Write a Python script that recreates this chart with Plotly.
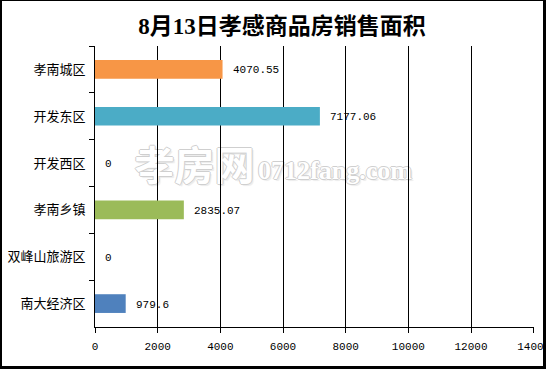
import plotly.graph_objects as go

# ---- data ----
categories = ["孝南城区", "开发东区", "开发西区", "孝南乡镇", "双峰山旅游区", "南大经济区"]
areas = [4070.55, 7177.06, 0, 2835.07, 0, 979.6]
value_labels = ["4070.55", "7177.06", "0", "2835.07", "0", "979.6"]
bar_colors = ["#F79646", "#4BACC6", "#C0504D", "#9BBB59", "#8064A2", "#4F81BD"]
x_ticks = [0, 2000, 4000, 6000, 8000, 10000, 12000, 14000]
title_text = "8月13日孝感商品房销售面积"
watermark_cn = "孝房网"
watermark_en = "0712fang.com"

# ---- layout geometry (pixels) ----
W, H = 546, 369
ML, MR, MT, MB = 95, 12, 46, 42
PW, PH = W - ML - MR, H - MT - MB


def px_x(px):
    return (px - ML) / PW


def px_y(py):
    return (H - MB - py) / PH


fig = go.Figure()
fig.add_trace(go.Bar(
    x=areas, y=categories, orientation="h",
    marker=dict(color=bar_colors, line=dict(width=0)),
    width=0.4, hoverinfo="skip",
))

for cat, val, lab in zip(categories, areas, value_labels):
    fig.add_annotation(
        x=val, y=cat, xref="x", yref="y", text=lab, showarrow=False,
        xanchor="left", yanchor="middle", xshift=8, yshift=-1,
        font=dict(family="Liberation Mono", size=11, color="#000"),
    )

outline = "#cfcfcf"
shadow = (f"1px 0 0 {outline}, -1px 0 0 {outline}, 0 1px 0 {outline}, "
          f"0 -1px 0 {outline}, 2px 2px 1px #ececec")


def add_watermark(text, cx, cy, w, h, family, size):
    font = dict(family=family, size=size, color="#ffffff", weight="bold", shadow=shadow)
    try:
        fig.add_shape(
            type="rect", xref="paper", yref="paper",
            x0=px_x(cx - w / 2), x1=px_x(cx + w / 2),
            y0=px_y(cy + h / 2), y1=px_y(cy - h / 2),
            line=dict(width=0), fillcolor="rgba(0,0,0,0)", layer="below",
            label=dict(text=text, font=font, textposition="middle center"),
        )
    except Exception:
        fig.add_annotation(
            x=px_x(cx), y=px_y(cy), xref="paper", yref="paper", text=text,
            showarrow=False, xanchor="center", yanchor="middle", font=font,
        )


add_watermark(watermark_cn, 194.5, 168.5, 124, 40, "Noto Sans CJK SC", 40)
add_watermark(watermark_en, 335, 167, 156, 30, "Liberation Serif", 26)

# frame around the picture
frame = [
    (0, 0, 2, H),        # left
    (0, 0, W, 1),        # top
    (W - 3, 0, W, H),    # right
    (0, H - 3, W, H),    # bottom
]
for x0, y0, x1, y1 in frame:
    fig.add_shape(
        type="rect", xref="paper", yref="paper",
        x0=px_x(x0), x1=px_x(x1), y0=px_y(y1), y1=px_y(y0),
        line=dict(width=0), fillcolor="#000000", layer="above",
    )

fig.update_layout(
    template="none",
    width=W, height=H,
    margin=dict(l=ML, r=MR, t=MT, b=MB, pad=0, autoexpand=False),
    paper_bgcolor="white", plot_bgcolor="white",
    showlegend=False, bargap=0.6,
    title=dict(
        text=title_text, x=282 / W, xref="container", xanchor="center",
        y=1 - 26 / H, yref="container", yanchor="middle",
        font=dict(family="Liberation Serif, Noto Sans CJK SC", size=23,
                  color="#000", weight="bold"),
    ),
    xaxis=dict(
        automargin=False,
        range=[0, 14010], tickvals=x_ticks, ticktext=[str(v) for v in x_ticks],
        showgrid=True, gridcolor="#000", gridwidth=1,
        zeroline=False, showline=True, linecolor="#000", linewidth=1,
        mirror=False,
        ticks="outside", ticklen=5, tickcolor="#000", tickwidth=1,
        ticklabelstandoff=4, ticklabeloverflow="allow",
        tickfont=dict(family="Liberation Mono", size=11, color="#000"),
        fixedrange=True,
    ),
    yaxis=dict(
        automargin=False,
        autorange="reversed", categoryorder="array", categoryarray=categories,
        showgrid=False, zeroline=False, showline=True, linecolor="#000", linewidth=1,
        ticks="outside", ticklen=5, tickcolor="#000", tickwidth=1,
        tickson="boundaries", ticklabelstandoff=6,
        tickfont=dict(family="Noto Sans CJK SC", size=13, color="#000"),
        fixedrange=True,
    ),
)

fig.write_html(
    "out.html",
    config={"displayModeBar": False},
    post_script="document.body.style.margin='0';document.body.style.overflow='hidden';",
)
